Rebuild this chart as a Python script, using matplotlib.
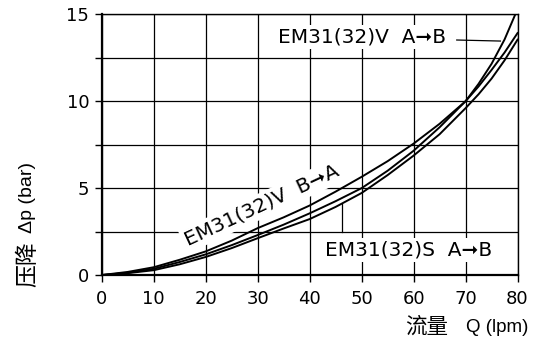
import numpy as np
import matplotlib
matplotlib.use("Agg")
import matplotlib.pyplot as plt
from matplotlib.ticker import MultipleLocator

# flow (lpm) and pressure drop (bar)
flow = [0, 5, 10, 15, 20, 25, 30, 35, 40, 45, 50, 55, 60, 65, 70, 72.5, 75, 77.5, 80]
dp_v_ba = [0, 0.18, 0.45, 0.88, 1.36, 1.98, 2.70, 3.32, 4.00, 4.80, 5.65, 6.55, 7.56, 8.70, 10.0, 10.85, 11.8, 12.8, 13.92]
dp_v_ab = [0, 0.13, 0.36, 0.75, 1.19, 1.72, 2.30, 2.90, 3.55, 4.25, 5.00, 6.00, 7.15, 8.50, 10.0, 11.0, 12.15, 13.55, 15.3]
dp_s_ab = [0, 0.11, 0.28, 0.62, 1.04, 1.55, 2.12, 2.68, 3.22, 3.92, 4.72, 5.75, 6.87, 8.10, 9.60, 10.4, 11.3, 12.35, 13.54]

ARROW = "\u279e"
label_v_ab = f"EM31(32)V  A{ARROW}B"
label_v_ba = f"EM31(32)V  B{ARROW}A"
label_s_ab = f"EM31(32)S  A{ARROW}B"

fig = plt.figure(figsize=(5.5, 3.4), dpi=100)
ax = fig.add_axes([0.185, 0.191, 0.756, 0.767])

for dp in (dp_v_ba, dp_v_ab, dp_s_ab):
    ax.plot(flow, dp, color="black", linewidth=1.4, zorder=4)

ax.set_xlim(0, 80)
ax.set_ylim(0, 15)
ax.xaxis.set_major_locator(MultipleLocator(10))
ax.yaxis.set_major_locator(MultipleLocator(5))
ax.yaxis.set_minor_locator(MultipleLocator(2.5))
ax.set_axisbelow(True)
ax.grid(True, which="both", color="black", linewidth=0.9)
ax.tick_params(which="both", direction="out", length=5, width=1, labelsize=13, color="black")
ax.tick_params(axis="x", pad=6)
ax.tick_params(axis="y", pad=4)
for side in ("left", "bottom"):
    ax.spines[side].set_linewidth(1.6)
for side in ("top", "right"):
    ax.spines[side].set_linewidth(1.0)

box = dict(facecolor="white", edgecolor="none", pad=2)

# top label with leader line to the V A->B curve
ax.text(33.9, 13.7, label_v_ab, fontsize=14.5, ha="left", va="center", bbox=box, zorder=3)
ax.plot([68.3, 76.7], [13.52, 13.46], color="black", linewidth=0.9, zorder=4)

# rotated label along the V B->A curve
ax.text(30.8, 4.0, label_v_ba, fontsize=14.5, rotation=25, rotation_mode="anchor",
        ha="center", va="center", bbox=box, zorder=3)

# S label with vertical pointer
ax.text(59.1, 1.44, label_s_ab, fontsize=14.5, ha="center", va="center", bbox=box, zorder=3)
ptr_x = 46.2
ax.plot([ptr_x, ptr_x], [2.47, np.interp(ptr_x, flow, dp_s_ab)], color="black", linewidth=0.9, zorder=4)

# axis titles: Chinese part and Latin part set separately
cjk = ["Noto Sans CJK SC", "DejaVu Sans"]
fig.text(28 / 550, 1 - 287 / 340, "压降", rotation=90, rotation_mode="anchor", fontsize=16.5,
         family=cjk, ha="left", va="center")
fig.text(28 / 550, 1 - 233 / 340, "Δp (bar)", rotation=90, rotation_mode="anchor", fontsize=14,
         family=["Liberation Sans"], ha="left", va="center")
fig.text(405 / 550, 1 - 327 / 340, "流量", fontsize=15.5, family=cjk, ha="left", va="center")
fig.text(466 / 550, 1 - 328 / 340, "Q (lpm)", fontsize=13.5, family=["Liberation Sans"], ha="left", va="center")

fig.savefig("out.png", dpi=100)
